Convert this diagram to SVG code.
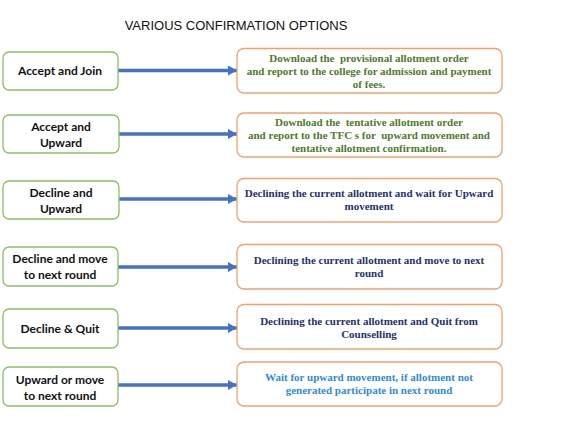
<svg xmlns="http://www.w3.org/2000/svg" width="565" height="426" viewBox="0 0 565 426">
<style>
.l{fill:#fff;stroke:#8cc063;stroke-width:1.3}
.r{fill:#fff;stroke:#f4a06a;stroke-width:1.3}
.lt{font-family:Lato,"Liberation Sans",sans-serif;font-weight:bold;font-size:12px;fill:#111;text-anchor:middle}
.rt{font-family:"Liberation Serif",serif;font-weight:bold;font-size:11px;text-anchor:middle;white-space:pre}
.g{fill:#4e7a2c}
.n{fill:#1f3170}
.b{fill:#2f8be0}
.title{font-family:"Liberation Sans",Arial,sans-serif;font-size:13px;fill:#111;text-anchor:middle}
.c{stroke:#4472c4;stroke-width:3.5;fill:none}
</style>
<defs>
<marker id="ah" markerWidth="9" markerHeight="10" refX="9" refY="5" orient="auto" markerUnits="userSpaceOnUse">
<path d="M0,0 L9,5 L0,10 Z" fill="#4472c4"/>
</marker>
</defs>
<text class="title" x="236" y="30">VARIOUS CONFIRMATION OPTIONS</text>
<g id="connectors">
<line class="c" x1="118" y1="70.5" x2="237" y2="70.5" marker-end="url(#ah)"/>
<line class="c" x1="119" y1="134" x2="237" y2="134" marker-end="url(#ah)"/>
<line class="c" x1="119" y1="199" x2="237" y2="199" marker-end="url(#ah)"/>
<line class="c" x1="118" y1="267" x2="237" y2="267" marker-end="url(#ah)"/>
<line class="c" x1="118" y1="328" x2="237" y2="328" marker-end="url(#ah)"/>
<line class="c" x1="118" y1="385" x2="237" y2="385" marker-end="url(#ah)"/>
</g>
<g id="n1"><rect class="l" x="3" y="52" width="115" height="38" rx="6"/><text class="lt" x="60" y="75">Accept and Join</text></g>
<g id="n2"><rect class="l" x="3" y="115" width="116" height="38" rx="6"/><text class="lt" x="61" y="131">Accept and</text><text class="lt" x="61" y="147">Upward</text></g>
<g id="n3"><rect class="l" x="3" y="181" width="116" height="38" rx="6"/><text class="lt" x="61" y="197">Decline and</text><text class="lt" x="61" y="213">Upward</text></g>
<g id="n4"><rect class="l" x="3" y="247" width="115" height="39" rx="6"/><text class="lt" x="60" y="263">Decline and move</text><text class="lt" x="60" y="279">to next round</text></g>
<g id="n5"><rect class="l" x="3" y="309" width="115" height="39" rx="6"/><text class="lt" x="60" y="333">Decline &amp; Quit</text></g>
<g id="n6"><rect class="l" x="3" y="367" width="115" height="39" rx="6"/><text class="lt" x="60" y="384">Upward or move</text><text class="lt" x="60" y="400">to next round</text></g>
<g id="r1"><rect class="r" x="237" y="48.5" width="265" height="44.5" rx="7"/>
<text class="rt g" x="369" y="62">Download the  provisional allotment order</text>
<text class="rt g" x="369" y="75">and report to the college for admission and payment</text>
<text class="rt g" x="369" y="88">of fees.</text></g>
<g id="r2"><rect class="r" x="237" y="113" width="265" height="44" rx="7"/>
<text class="rt g" x="369" y="126">Download the  tentative allotment order</text>
<text class="rt g" x="369" y="139">and report to the TFC s for  upward movement and</text>
<text class="rt g" x="369" y="152">tentative allotment confirmation.</text></g>
<g id="r3"><rect class="r" x="237" y="178.5" width="265" height="43.5" rx="7"/>
<text class="rt n" x="369" y="197">Declining the current allotment and wait for Upward</text>
<text class="rt n" x="369" y="210">movement</text></g>
<g id="r4"><rect class="r" x="237" y="244.5" width="265" height="44.5" rx="7"/>
<text class="rt n" x="369" y="264">Declining the current allotment and move to next</text>
<text class="rt n" x="369" y="277">round</text></g>
<g id="r5"><rect class="r" x="237" y="304.5" width="265" height="44.5" rx="7"/>
<text class="rt n" x="369" y="325">Declining the current allotment and Quit from</text>
<text class="rt n" x="369" y="338">Counselling</text></g>
<g id="r6"><rect class="r" x="237" y="362" width="265" height="44" rx="7"/>
<text class="rt b" x="369" y="381">Wait for upward movement, if allotment not</text>
<text class="rt b" x="369" y="394">generated participate in next round</text></g>
</svg>
